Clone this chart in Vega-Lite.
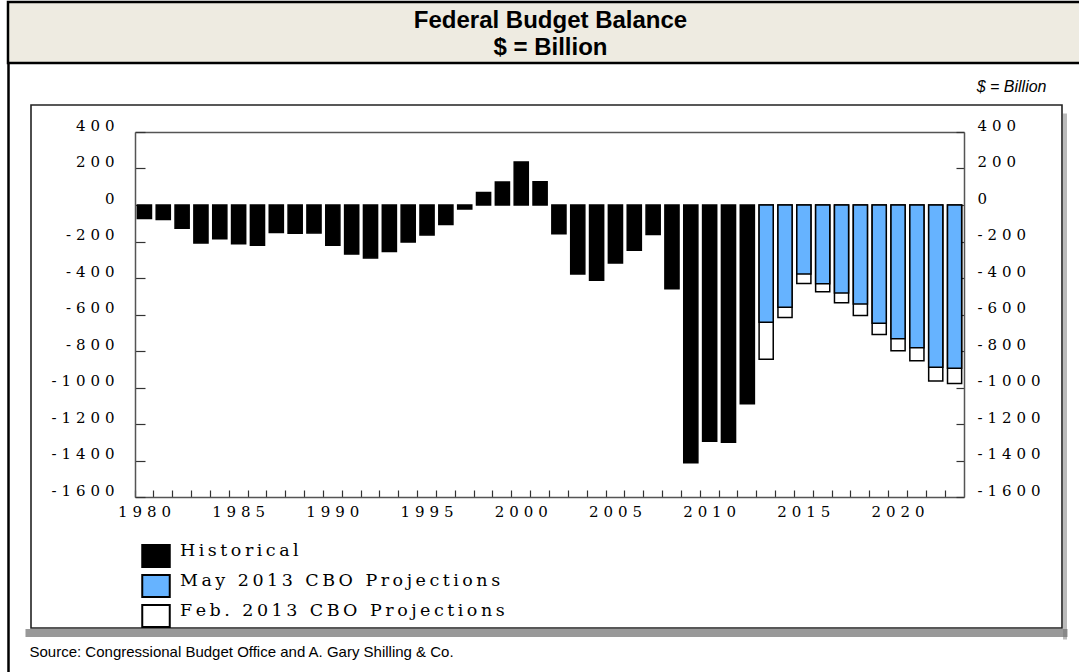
{
  "$schema": "https://vega.github.io/schema/vega-lite/v6.json",
  "background": "white",
  "padding": {"left": 6, "top": 0, "right": 0, "bottom": 0},
  "datasets": {
    "header": [
      {"row": 1, "line": "Federal Budget Balance"},
      {"row": 2, "line": "$ = Billion"}
    ],
    "budget": [
      {"year": 1980, "value": -74, "series": "Historical"},
      {"year": 1981, "value": -79, "series": "Historical"},
      {"year": 1982, "value": -128, "series": "Historical"},
      {"year": 1983, "value": -208, "series": "Historical"},
      {"year": 1984, "value": -185, "series": "Historical"},
      {"year": 1985, "value": -212, "series": "Historical"},
      {"year": 1986, "value": -221, "series": "Historical"},
      {"year": 1987, "value": -150, "series": "Historical"},
      {"year": 1988, "value": -155, "series": "Historical"},
      {"year": 1989, "value": -153, "series": "Historical"},
      {"year": 1990, "value": -221, "series": "Historical"},
      {"year": 1991, "value": -269, "series": "Historical"},
      {"year": 1992, "value": -290, "series": "Historical"},
      {"year": 1993, "value": -255, "series": "Historical"},
      {"year": 1994, "value": -203, "series": "Historical"},
      {"year": 1995, "value": -164, "series": "Historical"},
      {"year": 1996, "value": -107, "series": "Historical"},
      {"year": 1997, "value": -22, "series": "Historical"},
      {"year": 1998, "value": 69, "series": "Historical"},
      {"year": 1999, "value": 126, "series": "Historical"},
      {"year": 2000, "value": 236, "series": "Historical"},
      {"year": 2001, "value": 128, "series": "Historical"},
      {"year": 2002, "value": -158, "series": "Historical"},
      {"year": 2003, "value": -378, "series": "Historical"},
      {"year": 2004, "value": -413, "series": "Historical"},
      {"year": 2005, "value": -318, "series": "Historical"},
      {"year": 2006, "value": -248, "series": "Historical"},
      {"year": 2007, "value": -161, "series": "Historical"},
      {"year": 2008, "value": -459, "series": "Historical"},
      {"year": 2009, "value": -1413, "series": "Historical"},
      {"year": 2010, "value": -1294, "series": "Historical"},
      {"year": 2011, "value": -1300, "series": "Historical"},
      {"year": 2012, "value": -1089, "series": "Historical"},
      {"year": 2013, "value": -845, "series": "Feb. 2013 CBO Projections"},
      {"year": 2014, "value": -616, "series": "Feb. 2013 CBO Projections"},
      {"year": 2015, "value": -430, "series": "Feb. 2013 CBO Projections"},
      {"year": 2016, "value": -476, "series": "Feb. 2013 CBO Projections"},
      {"year": 2017, "value": -535, "series": "Feb. 2013 CBO Projections"},
      {"year": 2018, "value": -605, "series": "Feb. 2013 CBO Projections"},
      {"year": 2019, "value": -710, "series": "Feb. 2013 CBO Projections"},
      {"year": 2020, "value": -798, "series": "Feb. 2013 CBO Projections"},
      {"year": 2021, "value": -854, "series": "Feb. 2013 CBO Projections"},
      {"year": 2022, "value": -965, "series": "Feb. 2013 CBO Projections"},
      {"year": 2023, "value": -978, "series": "Feb. 2013 CBO Projections"},
      {"year": 2013, "value": -642, "series": "May 2013 CBO Projections"},
      {"year": 2014, "value": -560, "series": "May 2013 CBO Projections"},
      {"year": 2015, "value": -378, "series": "May 2013 CBO Projections"},
      {"year": 2016, "value": -432, "series": "May 2013 CBO Projections"},
      {"year": 2017, "value": -482, "series": "May 2013 CBO Projections"},
      {"year": 2018, "value": -542, "series": "May 2013 CBO Projections"},
      {"year": 2019, "value": -648, "series": "May 2013 CBO Projections"},
      {"year": 2020, "value": -733, "series": "May 2013 CBO Projections"},
      {"year": 2021, "value": -782, "series": "May 2013 CBO Projections"},
      {"year": 2022, "value": -889, "series": "May 2013 CBO Projections"},
      {"year": 2023, "value": -895, "series": "May 2013 CBO Projections"}
    ]
  },
  "spacing": 42,
  "bounds": "flush",
  "center": true,
  "vconcat": [
    {
      "width": 1077,
      "height": 61,
      "view": {"fill": "#EEEBE1", "stroke": "#000000", "strokeWidth": 2.5},
      "data": {"name": "header"},
      "mark": {"type": "text", "font": "Liberation Sans", "fontWeight": "bold", "fontSize": 24, "baseline": "middle", "color": "#000000", "dx": 4},
      "encoding": {
        "y": {"field": "row", "type": "ordinal", "axis": null, "scale": {"range": [19, 46], "padding": 0}},
        "text": {"field": "line", "type": "nominal"}
      }
    },
    {
      "width": 1031,
      "height": 523,
      "view": {"fill": "white", "stroke": "#222222", "strokeWidth": 1.6},
      "data": {"name": "budget"},
      "layer": [
        {
          "layer": [
            {
              "mark": {"type": "bar", "stroke": "#000000", "strokeWidth": 1.5, "width": {"band": 0.75}},
              "encoding": {
                "x": {
                  "field": "year", "type": "ordinal",
                  "scale": {"range": [104, 933], "paddingInner": 0, "paddingOuter": 0},
                  "axis": {
                    "orient": "bottom", "offset": -131, "bandPosition": 0,
                    "tickSize": -7, "tickColor": "#333333", "tickWidth": 1.2,
                    "domainColor": "#555555", "domainWidth": 1.5,
                    "labelExpr": "datum.value % 5 === 0 ? replace(toString(datum.value), regexp('(.)(?=.)', 'g'), '$1\u2004') : ''",
                    "labelFont": "DejaVu Serif", "labelFontSize": 15, "labelColor": "#000000",
                    "labelAngle": 0, "labelPadding": 14, "labelDx": 4, "labelOverlap": false,
                    "title": "Source:  Congressional Budget Office and A. Gary Shilling & Co.",
                    "titleX": -2, "titleY": 159, "titleAlign": "left", "titleBaseline": "alphabetic",
                    "titleAngle": 0, "titleFont": "Liberation Sans", "titleFontSize": 15,
                    "titleFontWeight": "normal", "titleColor": "#000000"
                  }
                },
                "y": {
                  "field": "value", "type": "quantitative", "stack": null,
                  "scale": {"domain": [-1600, 400], "range": [392, 27], "nice": false},
                  "axis": {
                    "orient": "left", "offset": -104,
                    "values": [-1600, -1400, -1200, -1000, -800, -600, -400, -200, 0, 200, 400],
                    "tickSize": -10, "tickColor": "#333333", "tickWidth": 1.2,
                    "domainColor": "#555555", "domainWidth": 1.5, "grid": false,
                    "labelExpr": "replace(toString(datum.value), regexp('(.)(?=.)', 'g'), '$1\u2004')",
                    "labelFont": "DejaVu Serif", "labelFontSize": 15, "labelColor": "#000000",
                    "labelPadding": 31, "labelOffset": -7, "labelBaseline": "middle", "labelOverlap": false,
                    "title": null
                  }
                },
                "color": {
                  "field": "series", "type": "nominal",
                  "scale": {
                    "domain": ["Historical", "May 2013 CBO Projections", "Feb. 2013 CBO Projections"],
                    "range": ["#000000", "#66B3FF", "#FFFFFF"]
                  },
                  "legend": {
                    "orient": "none", "legendX": 136, "legendY": 542, "title": null, "padding": 0,
                    "direction": "vertical",
                    "symbolType": "M-1.25,-1L1.25,-1L1.25,1L-1.25,1Z", "symbolSize": 484,
                    "symbolStrokeColor": "#000000", "symbolStrokeWidth": 2, "symbolOpacity": 1,
                    "labelFont": "DejaVu Serif", "labelFontSize": 17.5, "labelColor": "#000000",
                    "labelBaseline": "alphabetic", "labelOffset": 12, "labelLimit": 600, "rowPadding": 0,
                    "labelExpr": "replace(datum.label, regexp('(.)(?=.)', 'g'), '$1\u2009')"
                  }
                }
              }
            },
            {
              "mark": {"type": "point", "opacity": 0},
              "encoding": {
                "x": {
                  "field": "year", "type": "ordinal",
                  "axis": {
                    "orient": "top", "offset": -27, "ticks": false, "labels": false,
                    "domainColor": "#555555", "domainWidth": 1.5,
                    "title": "$ = Billion", "titleX": 1015, "titleY": -41, "titleAlign": "right",
                    "titleBaseline": "alphabetic", "titleAngle": 0, "titleFont": "Liberation Sans",
                    "titleFontSize": 16, "titleFontStyle": "italic", "titleFontWeight": "normal",
                    "titleColor": "#000000"
                  }
                },
                "y": {
                  "field": "value", "type": "quantitative",
                  "axis": {
                    "orient": "right", "offset": -98,
                    "values": [-1600, -1400, -1200, -1000, -800, -600, -400, -200, 0, 200, 400],
                    "tickSize": -8, "tickColor": "#333333", "tickWidth": 1.2,
                    "domainColor": "#555555", "domainWidth": 1.5, "grid": false,
                    "labelExpr": "replace(toString(datum.value), regexp('(.)(?=.)', 'g'), '$1\u2004')",
                    "labelFont": "DejaVu Serif", "labelFontSize": 15, "labelColor": "#000000",
                    "labelPadding": 21, "labelOffset": -7, "labelBaseline": "middle", "labelOverlap": false,
                    "title": null
                  }
                }
              }
            }
          ],
          "resolve": {"scale": {"x": "shared", "y": "shared"}, "axis": {"x": "independent", "y": "independent"}}
        },
        {
          "mark": {"type": "point", "opacity": 0},
          "encoding": {
            "x": {
              "field": "year", "type": "ordinal",
              "scale": {"range": [-6, 1036]},
              "axis": {"orient": "bottom", "offset": 4.5, "ticks": false, "labels": false, "domainColor": "#555555", "domainWidth": 8, "domainOpacity": 0.6, "title": null}
            },
            "y": {
              "field": "value", "type": "quantitative",
              "scale": {"domain": [-1600, 400], "range": [568, -42], "nice": false},
              "axis": {"orient": "left", "offset": 23, "ticks": false, "labels": false, "domainColor": "#000000", "domainWidth": 2.5, "grid": false, "title": null}
            }
          }
        },
        {
          "mark": {"type": "point", "opacity": 0},
          "encoding": {
            "x": {"field": "year", "type": "ordinal", "axis": null},
            "y": {
              "field": "value", "type": "quantitative",
              "scale": {"domain": [-1600, 400], "range": [534, 8], "nice": false},
              "axis": {"orient": "right", "offset": 2.5, "ticks": false, "labels": false, "domainColor": "#777777", "domainWidth": 4, "domainOpacity": 0.5, "grid": false, "title": null}
            }
          }
        }
      ],
      "resolve": {"scale": {"x": "independent", "y": "independent"}, "axis": {"x": "independent", "y": "independent"}}
    }
  ],
  "config": {"axis": {"grid": false}, "legend": {"padding": 0}}
}
